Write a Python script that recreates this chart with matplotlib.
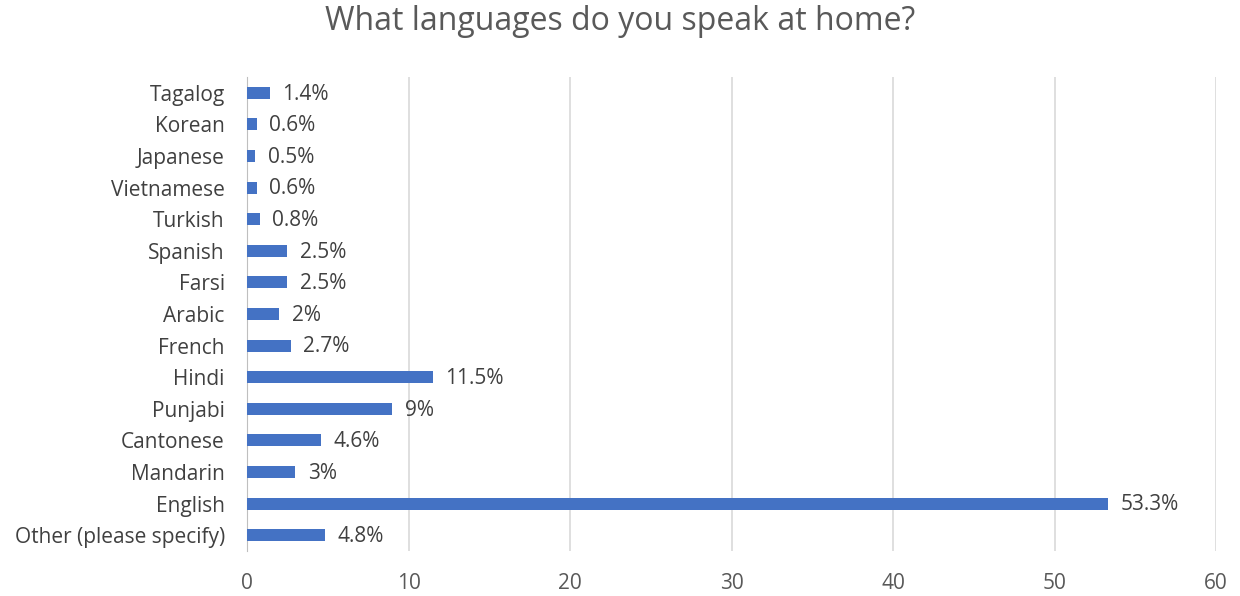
import matplotlib.pyplot as plt

# categories top to bottom as in the picture
languages = ['Tagalog', 'Korean', 'Japanese', 'Vietnamese', 'Turkish', 'Spanish',
             'Farsi', 'Arabic', 'French', 'Hindi', 'Punjabi', 'Cantonese',
             'Mandarin', 'English', 'Other (please specify)']
percent = [1.4, 0.6, 0.5, 0.6, 0.8, 2.5, 2.5, 2.0, 2.7, 11.5, 9.0, 4.6, 3.0, 53.3, 4.8]
value_labels = ['1.4%', '0.6%', '0.5%', '0.6%', '0.8%', '2.5%', '2.5%', '2%', '2.7%',
                '11.5%', '9%', '4.6%', '3%', '53.3%', '4.8%']
x_ticks = [0, 10, 20, 30, 40, 50, 60]

plt.rcParams['font.family'] = ['Open Sans', 'DejaVu Sans']

fig = plt.figure(figsize=(12.4, 5.96), dpi=100)
ax = fig.add_axes([0.1992, 0.0755, 0.7815, 0.7953])

y_pos = list(range(len(languages)))
ax.barh(y_pos, percent, height=0.38, color='#4472C4', zorder=3)

# value labels just to the right of each bar
for y, v, lab in zip(y_pos, percent, value_labels):
    ax.annotate(lab, xy=(v, y), xytext=(9, -1), textcoords='offset points',
                va='center', ha='left', fontsize=15, color='#404040')

ax.set_yticks(y_pos)
ax.set_yticklabels(languages, fontsize=15, color='#404040')
ax.set_ylim(len(languages) - 0.5, -0.5)

ax.set_xlim(0, 60)
ax.set_xticks(x_ticks)
ax.set_xticklabels([str(t) for t in x_ticks], fontsize=15, color='#595959')
ax.xaxis.grid(True, color='#D9D9D9', linewidth=1.2, zorder=0)
ax.tick_params(axis='x', length=0, pad=16)
ax.tick_params(axis='y', length=0, pad=16)

for s in ['top', 'right', 'bottom']:
    ax.spines[s].set_visible(False)
ax.spines['left'].set_color('#BFBFBF')

fig.text(0.5, 1 - 22 / 596, 'What languages do you speak at home?', fontsize=23,
         color='#595959', ha='center', va='center')

fig.savefig('out.png', dpi=100)
